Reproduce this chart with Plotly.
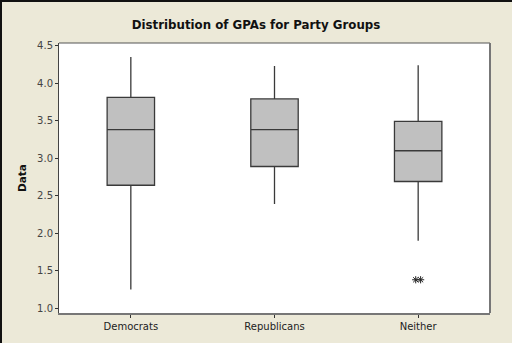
import plotly.graph_objects as go

categories = ["Democrats", "Republicans", "Neither"]
lower_whisker = [1.25, 2.39, 1.90]
q1_values = [2.64, 2.89, 2.69]
medians = [3.38, 3.38, 3.10]
q3_values = [3.81, 3.79, 3.49]
upper_whisker = [4.35, 4.23, 4.24]
outlier_group = [2, 2]
outlier_values = [1.38, 1.38]
y_ticks = [1.0, 1.5, 2.0, 2.5, 3.0, 3.5, 4.0, 4.5]

W, H = 512, 343
ML, MR, MT, MB = 59, 22, 43, 30
pw, ph = W - ML - MR, H - MT - MB

fig = go.Figure()
fig.add_trace(go.Box(
    x=list(range(len(categories))),
    q1=q1_values, median=medians, q3=q3_values,
    lowerfence=lower_whisker, upperfence=upper_whisker,
    width=0.33,
    fillcolor="#c0c0c0",
    line=dict(color="#3a3a3a", width=1.3),
    whiskerwidth=0,
    boxpoints=False,
    showlegend=False,
    hoverinfo="skip",
))
offsets = [-0.017, 0.017]
fig.add_trace(go.Scatter(
    x=[g + offsets[i % 2] for i, g in enumerate(outlier_group)],
    y=outlier_values,
    mode="markers",
    marker=dict(symbol="asterisk-open", size=6, color="#222", line=dict(color="#222", width=1)),
    showlegend=False,
    hoverinfo="skip",
))

fig.update_layout(
    width=W, height=H,
    margin=dict(l=ML, r=MR, t=MT, b=MB),
    paper_bgcolor="#ece9d8",
    plot_bgcolor="#ffffff",
    font=dict(family="DejaVu Sans", size=10, color="#333"),
    title=dict(text="<b>Distribution of GPAs for Party Groups</b>", x=0.5, xanchor="center",
               y=1 - 25 / H, yanchor="middle", font=dict(size=11.8, color="#111")),
    xaxis=dict(range=[-0.5, 2.5], tickvals=list(range(len(categories))), ticktext=categories,
               showgrid=False, zeroline=False, ticks="outside", ticklen=3, tickcolor="#333",
               showline=True, linecolor="#777", linewidth=2, mirror=False,
               tickfont=dict(size=10, color="#222")),
    yaxis=dict(range=[0.937, 4.536], tickvals=y_ticks, ticktext=[f"{v:.1f}" for v in y_ticks],
               showgrid=False, zeroline=False, ticks="outside", ticklen=3, tickcolor="#333",
               showline=True, linecolor="#444", linewidth=1, mirror=False,
               title=dict(text="<b>Data</b>", standoff=8, font=dict(size=10.5, color="#111")),
               tickfont=dict(size=10, color="#444")),
)
# plot frame top/right
fig.add_shape(type="line", xref="paper", yref="paper", x0=0, x1=1, y0=1, y1=1,
              line=dict(color="#555", width=1))
fig.add_shape(type="line", xref="paper", yref="paper", x0=1, x1=1, y0=0, y1=1,
              line=dict(color="#777", width=2))
# outer window border left/top
fig.add_shape(type="line", xref="paper", yref="paper",
              x0=-ML / pw + 1 / pw, x1=-ML / pw + 1 / pw, y0=-MB / ph, y1=1 + MT / ph,
              line=dict(color="#111", width=2))
fig.add_shape(type="line", xref="paper", yref="paper",
              x0=-ML / pw, x1=1 + MR / pw, y0=1 + MT / ph - 1 / ph, y1=1 + MT / ph - 1 / ph,
              line=dict(color="#111", width=2))

fig.write_html("out.html")
